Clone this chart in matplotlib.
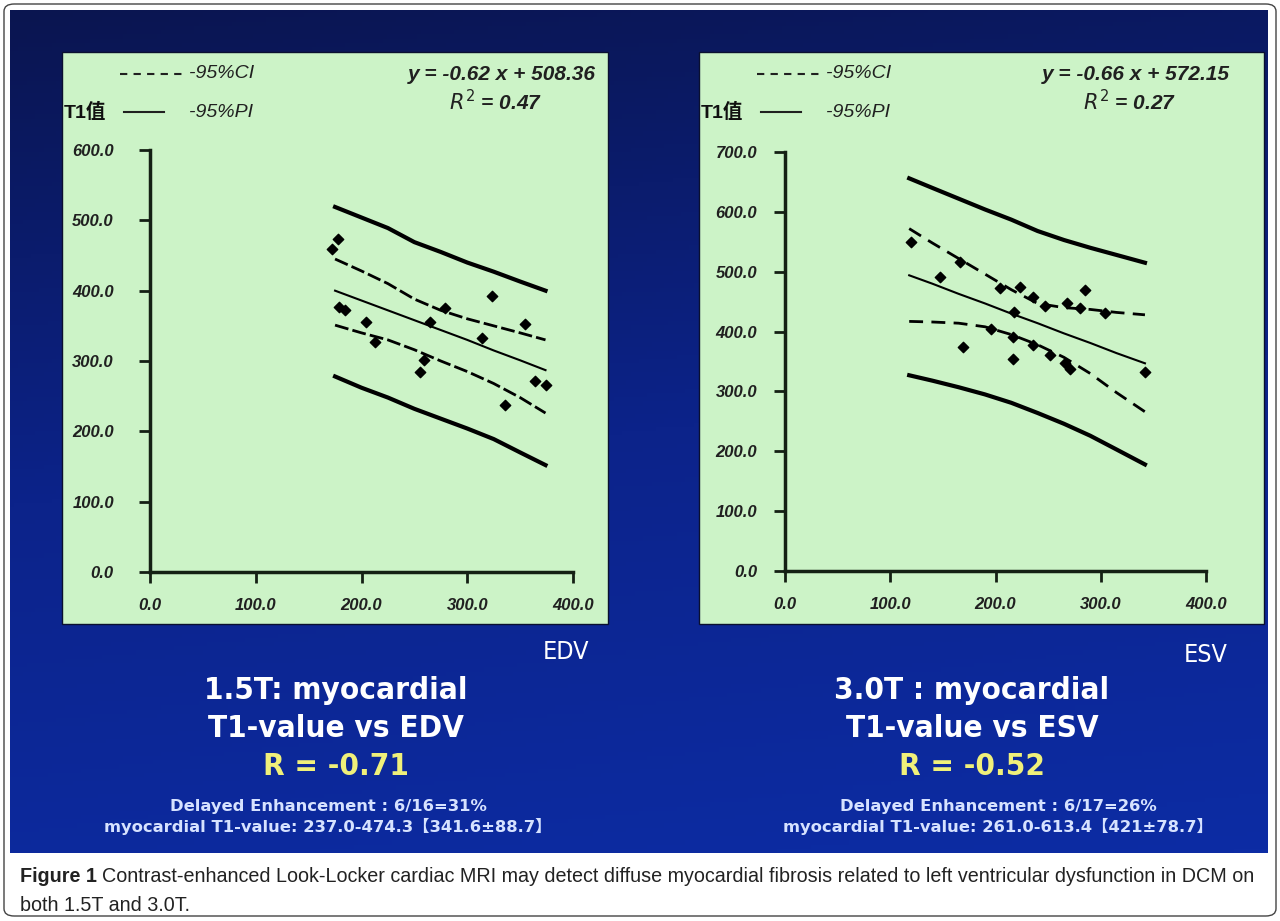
import numpy as np
import matplotlib
matplotlib.use("Agg")
import matplotlib.pyplot as plt
import matplotlib.ticker as ticker
import matplotlib.font_manager as fm
from matplotlib.patches import Rectangle, FancyBboxPatch
from matplotlib.lines import Line2D
from matplotlib.colors import LinearSegmentedColormap

W, H = 1280, 921

# 1.5T panel: T1 value vs EDV
edv_x = [175, 200, 225, 250, 275, 300, 325, 350, 374]
edv_pi_hi = [519, 504, 489, 469, 455, 440, 427, 413, 400]
edv_ci_hi = [445, 428, 410, 388, 372, 360, 350, 340, 330]
edv_fit = [400, 386, 372, 358, 344, 330, 315, 301, 287]
edv_ci_lo = [351, 340, 330, 316, 300, 285, 268, 248, 226]
edv_pi_lo = [278, 262, 248, 232, 218, 204, 189, 170, 152]
edv_pts_x = [178, 172, 179, 184, 204, 213, 265, 255, 323, 314, 355, 336, 364, 374, 279, 259]
edv_pts_y = [474, 459, 377, 372, 355, 327, 356, 285, 392, 332, 353, 237, 272, 266, 375, 301]

# 3.0T panel: T1 value vs ESV
esv_x = [118, 140, 165, 190, 215, 240, 265, 290, 315, 342]
esv_pi_hi = [656, 640, 622, 604, 587, 568, 553, 540, 528, 515]
esv_ci_hi = [572, 548, 522, 496, 470, 447, 440, 437, 432, 428]
esv_fit = [494, 480, 463, 447, 430, 414, 397, 381, 364, 347]
esv_ci_lo = [417, 416, 414, 408, 395, 378, 357, 330, 298, 266]
esv_pi_lo = [327, 318, 307, 295, 281, 264, 246, 226, 203, 178]
esv_pts_x = [120, 147, 166, 169, 217, 218, 285, 342, 204, 223, 236, 247, 268, 280, 304,
             196, 217, 236, 252, 266, 271]
esv_pts_y = [550, 492, 517, 375, 354, 433, 469, 333, 472, 475, 458, 442, 447, 439, 431,
             405, 391, 378, 361, 347, 337]


def fx(px):
    return px / W


def fy(py):
    return 1 - py / H


AXIS_COL = '#142014'
TICK_FONT = ['Liberation Sans', 'DejaVu Sans']

# pick a narrow face for the slide titles if one is installed
narrow = None
for f in fm.fontManager.ttflist:
    if 'Narrow' in f.name or 'Condensed' in f.name or f.stretch in ('condensed', 'semi-condensed'):
        narrow = f
        break
if narrow is not None:
    TITLE_FONT = dict(family=[narrow.name, 'DejaVu Sans'], fontstretch=narrow.stretch)
    TITLE_SIZE = 22.5
else:
    TITLE_FONT = dict(family=TICK_FONT)
    TITLE_SIZE = 20


def plot_panel(ax, x, pi_hi, ci_hi, fit, ci_lo, pi_lo, pts_x, pts_y, ymax, dash, ypad):
    ax.plot(x, pi_hi, color='k', lw=3)
    ax.plot(x, pi_lo, color='k', lw=3)
    ax.plot(x, fit, color='k', lw=1.5)
    ax.plot(x, ci_hi, color='k', lw=2, linestyle=dash)
    ax.plot(x, ci_lo, color='k', lw=2, linestyle=dash)
    ax.scatter(pts_x, pts_y, marker='D', s=28, color='k', zorder=3)

    ax.set_xlim(0, 400)
    ax.set_ylim(0, ymax)
    ax.set_xticks(np.arange(0, 401, 100))
    ax.set_yticks(np.arange(0, ymax + 1, 100))
    ax.xaxis.set_major_formatter(ticker.FormatStrFormatter('%.1f'))
    ax.yaxis.set_major_formatter(ticker.FormatStrFormatter('%.1f'))
    ax.patch.set_alpha(0)
    for s in ['top', 'right']:
        ax.spines[s].set_visible(False)
    for s in ['left', 'bottom']:
        ax.spines[s].set_linewidth(2.5)
        ax.spines[s].set_color(AXIS_COL)
    ax.tick_params(direction='out', length=8, width=2, colors=AXIS_COL, labelsize=12)
    ax.tick_params(axis='y', pad=ypad)
    ax.tick_params(axis='x', pad=11)
    for lab in ax.get_xticklabels() + ax.get_yticklabels():
        lab.set_fontweight('bold')
        lab.set_fontstyle('italic')
        lab.set_family(TICK_FONT)
        lab.set_color('#202020')


fig = plt.figure(figsize=(12.8, 9.21), dpi=100)
fig.patch.set_facecolor('white')

# blue slide background
bg = fig.add_axes([fx(10), fy(853), (1268 - 10) / W, (853 - 10) / H], zorder=0)
gy, gx = np.mgrid[0:1:200j, 0:1:300j]
grad = np.clip(gy * 0.85 + gx * 0.15, 0, 1)
slide_cmap = LinearSegmentedColormap.from_list('slide', ['#0a1550', '#0c238a', '#0d2ca4'])
bg.imshow(grad, aspect='auto', cmap=slide_cmap, extent=[0, 1, 0, 1])
bg.axis('off')

# green panels
for x0, x1 in [(62, 608), (699, 1264)]:
    fig.add_artist(Rectangle((fx(x0), fy(624)), (x1 - x0) / W, (624 - 52) / H,
                             transform=fig.transFigure, facecolor='#ccf3c7',
                             edgecolor='#0a1030', lw=1, zorder=1))

ax1 = fig.add_axes([fx(150), fy(572), 423 / W, 422 / H], zorder=2)
plot_panel(ax1, edv_x, edv_pi_hi, edv_ci_hi, edv_fit, edv_ci_lo, edv_pi_lo,
           edv_pts_x, edv_pts_y, 600, (0, (5, 1.5)), 18)

ax2 = fig.add_axes([fx(785), fy(571), 421 / W, 419 / H], zorder=2)
plot_panel(ax2, esv_x, esv_pi_hi, esv_ci_hi, esv_fit, esv_ci_lo, esv_pi_lo,
           esv_pts_x, esv_pts_y, 700, (0, (5, 3)), 12)

# in-panel legends, equations and y labels (offsets from each panel's left edge)
leg_style = dict(fontsize=14, fontstyle='italic', family=TICK_FONT, color='#202020',
                 va='center', zorder=4)
panels = [
    dict(left=62, eq='y = -0.62 x + 508.36', eq_x=596, r2='$R^2$ = 0.47'),
    dict(left=699, eq='y = -0.66 x + 572.15', eq_x=1230, r2='$R^2$ = 0.27'),
]
for p in panels:
    x0 = p['left']
    fig.add_artist(Line2D([fx(x0 + 58), fx(x0 + 122)], [fy(74), fy(74)],
                          transform=fig.transFigure, color='#202020', lw=1.5,
                          linestyle=(0, (3.5, 3)), zorder=4))
    fig.text(fx(x0 + 127), fy(74), '-95%CI', **leg_style)
    fig.add_artist(Line2D([fx(x0 + 62), fx(x0 + 102)], [fy(112), fy(112)],
                          transform=fig.transFigure, color='#202020', lw=1.5, zorder=4))
    fig.text(fx(x0 + 127), fy(112), '-95%PI', **leg_style)
    fig.text(fx(x0 + 2), fy(112), 'T1值', fontsize=14, fontweight='bold',
             family=['Liberation Sans', 'Noto Sans CJK SC'], color='#101010',
             va='center', ha='left', zorder=4)
    fig.text(fx(p['eq_x']), fy(74), p['eq'], ha='right', fontweight='bold',
             **dict(leg_style, fontsize=15))
    fig.text(fx(p['eq_x'] - 100), fy(102), p['r2'], ha='center', fontweight='bold',
             **dict(leg_style, fontsize=15))

# slide titles
title_style = dict(color='white', ha='center', va='center', fontsize=TITLE_SIZE,
                   fontweight='bold', zorder=4, **TITLE_FONT)
fig.text(fx(566), fy(652), 'EDV', **dict(title_style, fontsize=18, fontweight='normal'))
fig.text(fx(1206), fy(655), 'ESV', **dict(title_style, fontsize=18, fontweight='normal'))
fig.text(fx(336), fy(690), '1.5T: myocardial', **title_style)
fig.text(fx(336), fy(728), 'T1-value vs EDV', **title_style)
fig.text(fx(336), fy(766), 'R = -0.71', **dict(title_style, color='#f0f07a'))
fig.text(fx(972), fy(690), '3.0T : myocardial', **title_style)
fig.text(fx(972), fy(728), 'T1-value vs ESV', **title_style)
fig.text(fx(972), fy(766), 'R = -0.52', **dict(title_style, color='#f0f07a'))

note_style = dict(color='#d6e2ff', ha='center', va='center', fontsize=11.8,
                  family=['DejaVu Sans', 'Noto Sans CJK SC'], fontweight='bold', zorder=4)
fig.text(fx(328), fy(806), 'Delayed Enhancement : 6/16=31%', **note_style)
fig.text(fx(328), fy(826), 'myocardial T1-value: 237.0-474.3【341.6±88.7】', **note_style)
fig.text(fx(998), fy(806), 'Delayed Enhancement : 6/17=26%', **note_style)
fig.text(fx(998), fy(826), 'myocardial T1-value: 261.0-613.4【421±78.7】', **note_style)

# caption, the bold label followed by the plain sentence
cap_style = dict(fontsize=14.2, family=TICK_FONT, color='#222222', va='center')
lab = fig.text(fx(20), fy(876), 'Figure 1', fontweight='bold', **cap_style)
fig.canvas.draw()
lab_end = lab.get_window_extent().x1
fig.text((lab_end + 5) / W, fy(876), 'Contrast-enhanced Look-Locker cardiac MRI may detect diffuse '
         'myocardial fibrosis related to left ventricular dysfunction in DCM on', **cap_style)
fig.text(fx(20), fy(905), 'both 1.5T and 3.0T.', **cap_style)

# outer rounded frame
fig.add_artist(FancyBboxPatch((fx(4), fy(916)), (1276 - 4) / W, (916 - 4) / H,
                              boxstyle='round,pad=0,rounding_size=0.008',
                              transform=fig.transFigure, fill=False,
                              edgecolor='#444444', lw=1, zorder=5))

fig.savefig('out.png', dpi=100, facecolor='white')
